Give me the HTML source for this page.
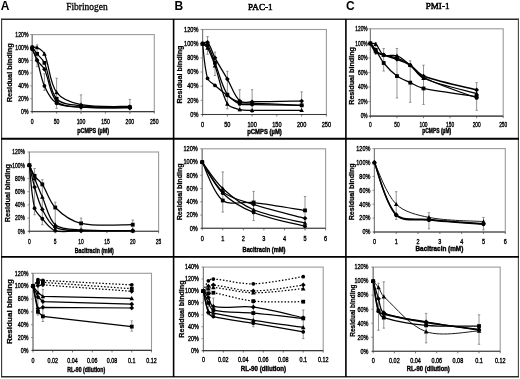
<!DOCTYPE html>
<html><head><meta charset="utf-8"><title>Residual binding figure</title>
<style>html,body{margin:0;padding:0;background:#fff;width:520px;height:379px;overflow:hidden}svg{display:block;will-change:transform;filter:blur(0.3px);font-family:"Liberation Sans",sans-serif}</style>
</head><body>
<svg width="520" height="379" viewBox="0 0 520 379" font-family="Liberation Sans">
<rect width="520" height="379" fill="#fff"/>
<text x="0.80" y="9.60" font-size="12" fill="#000" font-weight="bold">A</text><text x="174.50" y="9.70" font-size="12" fill="#000" font-weight="bold">B</text><text x="345.90" y="9.70" font-size="12" fill="#000" font-weight="bold">C</text><text x="66.20" y="9.65" font-size="9.8" fill="#000" stroke="#000" stroke-width="0.3" textLength="41.60" lengthAdjust="spacingAndGlyphs" font-family="Liberation Serif">Fibrinogen</text><text x="248.10" y="9.50" font-size="9.2" fill="#000" stroke="#000" stroke-width="0.5" textLength="24.60" lengthAdjust="spacingAndGlyphs" font-family="Liberation Serif">PAC-1</text><text x="425.70" y="9.45" font-size="9.2" fill="#000" stroke="#000" stroke-width="0.5" textLength="23.80" lengthAdjust="spacingAndGlyphs" font-family="Liberation Serif">PMI-1</text>

<g fill="none">
<line x1="1.5" y1="19.2" x2="518.5" y2="19.2" stroke="#2a2a2a" stroke-width="1.5"/>
<line x1="1.6" y1="18.5" x2="1.6" y2="377" stroke="#333" stroke-width="1.1"/>
<line x1="518.4" y1="18.5" x2="518.4" y2="377" stroke="#444" stroke-width="1.1"/>
<line x1="1" y1="376.7" x2="519" y2="376.7" stroke="#2a2a2a" stroke-width="1.5"/>
<line x1="173.6" y1="19" x2="173.6" y2="377" stroke="#000" stroke-width="1.6"/>
<line x1="345.9" y1="19" x2="345.9" y2="377" stroke="#000" stroke-width="1.6"/>
<line x1="1" y1="138.7" x2="519" y2="138.7" stroke="#000" stroke-width="1.9"/>
<line x1="1" y1="256.9" x2="519" y2="256.9" stroke="#000" stroke-width="1.9"/>
</g>

<rect x="32.20" y="34.60" width="122.10" height="77.00" fill="none" stroke="#9a9a9a" stroke-width="1.1"/>
<line x1="32.20" y1="34.60" x2="32.20" y2="111.60" stroke="#7a7a7a" stroke-width="1"/>
<line x1="30.20" y1="111.60" x2="32.20" y2="111.60" stroke="#777" stroke-width="0.8"/>
<line x1="30.20" y1="98.77" x2="32.20" y2="98.77" stroke="#777" stroke-width="0.8"/>
<line x1="30.20" y1="85.93" x2="32.20" y2="85.93" stroke="#777" stroke-width="0.8"/>
<line x1="30.20" y1="73.10" x2="32.20" y2="73.10" stroke="#777" stroke-width="0.8"/>
<line x1="30.20" y1="60.27" x2="32.20" y2="60.27" stroke="#777" stroke-width="0.8"/>
<line x1="30.20" y1="47.43" x2="32.20" y2="47.43" stroke="#777" stroke-width="0.8"/>
<line x1="30.20" y1="34.60" x2="32.20" y2="34.60" stroke="#777" stroke-width="0.8"/>
<line x1="32.20" y1="111.60" x2="32.20" y2="113.60" stroke="#555" stroke-width="0.8"/>
<line x1="56.62" y1="111.60" x2="56.62" y2="113.60" stroke="#555" stroke-width="0.8"/>
<line x1="81.04" y1="111.60" x2="81.04" y2="113.60" stroke="#555" stroke-width="0.8"/>
<line x1="105.46" y1="111.60" x2="105.46" y2="113.60" stroke="#555" stroke-width="0.8"/>
<line x1="129.88" y1="111.60" x2="129.88" y2="113.60" stroke="#555" stroke-width="0.8"/>
<line x1="154.30" y1="111.60" x2="154.30" y2="113.60" stroke="#555" stroke-width="0.8"/>
<line x1="31.20" y1="111.60" x2="154.30" y2="111.60" stroke="#3a3a3a" stroke-width="1.1"/>
<g stroke="#808080" stroke-width="0.85"><line x1="37.08" y1="44.87" x2="37.08" y2="66.68"/><line x1="35.88" y1="44.87" x2="38.28" y2="44.87"/><line x1="35.88" y1="66.68" x2="38.28" y2="66.68"/><line x1="44.41" y1="73.74" x2="44.41" y2="90.42"/><line x1="43.21" y1="73.74" x2="45.61" y2="73.74"/><line x1="43.21" y1="90.42" x2="45.61" y2="90.42"/><line x1="56.62" y1="78.23" x2="56.62" y2="108.39"/><line x1="55.42" y1="78.23" x2="57.82" y2="78.23"/><line x1="55.42" y1="108.39" x2="57.82" y2="108.39"/><line x1="81.04" y1="94.92" x2="81.04" y2="113.52"/><line x1="79.84" y1="94.92" x2="82.24" y2="94.92"/><line x1="129.88" y1="99.41" x2="129.88" y2="113.52"/><line x1="128.68" y1="99.41" x2="131.08" y2="99.41"/></g>
<path d="M32.20,47.43 C33.01,47.43 35.72,46.72 37.08,47.43 C39.79,48.86 43.14,50.94 44.41,53.85 C49.66,65.91 49.33,82.27 56.62,92.35 C61.54,99.16 72.29,102.86 81.04,104.54 C96.71,107.56 121.74,106.15 129.88,106.47" fill="none" stroke="#000" stroke-width="1.25"/>
<g fill="#000"><path d="M32.20,45.15 L34.48,49.26 L29.92,49.26Z"/><path d="M37.08,45.15 L39.36,49.26 L34.80,49.26Z"/><path d="M44.41,51.57 L46.69,55.67 L42.13,55.67Z"/><path d="M56.62,90.07 L58.90,94.17 L54.34,94.17Z"/><path d="M81.04,102.26 L83.32,106.37 L78.76,106.37Z"/><path d="M129.88,104.19 L132.16,108.29 L127.60,108.29Z"/></g>
<path d="M32.20,47.43 C33.01,48.50 35.41,51.74 37.08,53.85 C39.48,56.88 42.89,59.33 44.41,62.83 C49.40,74.30 49.31,90.18 56.62,98.77 C61.52,104.52 72.68,104.87 81.04,105.82 C97.10,107.65 121.74,106.89 129.88,107.11" fill="none" stroke="#000" stroke-width="1.25"/>
<g fill="#000"><rect x="30.30" y="45.53" width="3.80" height="3.80"/><rect x="35.18" y="51.95" width="3.80" height="3.80"/><rect x="42.51" y="60.93" width="3.80" height="3.80"/><rect x="54.72" y="96.87" width="3.80" height="3.80"/><rect x="79.14" y="103.92" width="3.80" height="3.80"/><rect x="127.98" y="105.21" width="3.80" height="3.80"/></g>
<path d="M32.20,47.43 C33.01,49.57 34.88,56.32 37.08,60.27 C38.95,63.60 42.77,65.79 44.41,69.25 C49.28,79.48 49.57,94.04 56.62,101.33 C61.78,106.66 72.75,106.38 81.04,107.11 C97.17,108.52 121.74,107.64 129.88,107.75" fill="none" stroke="#000" stroke-width="1.25"/>
<g fill="#000"><path d="M32.20,45.06 L34.58,47.43 L32.20,49.81 L29.83,47.43Z"/><path d="M37.08,57.89 L39.46,60.27 L37.08,62.64 L34.71,60.27Z"/><path d="M44.41,66.88 L46.79,69.25 L44.41,71.62 L42.04,69.25Z"/><path d="M56.62,98.96 L59.00,101.33 L56.62,103.71 L54.25,101.33Z"/><path d="M81.04,104.73 L83.42,107.11 L81.04,109.48 L78.67,107.11Z"/><path d="M129.88,105.38 L132.25,107.75 L129.88,110.12 L127.50,107.75Z"/></g>
<path d="M32.20,49.36 C33.01,51.18 35.83,56.50 37.08,60.27 C39.90,68.69 40.78,77.95 44.41,85.93 C47.29,92.28 50.98,100.00 56.62,103.26 C63.19,107.06 72.83,106.61 81.04,107.11 C97.25,108.10 121.74,107.64 129.88,107.75" fill="none" stroke="#000" stroke-width="1.25"/>
<g fill="#000"><circle cx="32.20" cy="49.36" r="1.90"/><circle cx="37.08" cy="60.27" r="1.90"/><circle cx="44.41" cy="85.93" r="1.90"/><circle cx="56.62" cy="103.26" r="1.90"/><circle cx="81.04" cy="107.11" r="1.90"/><circle cx="129.88" cy="107.75" r="1.90"/></g>
<text x="28.50" y="113.90" font-size="6.5" fill="#000" stroke="#000" stroke-width="0.35" text-anchor="end" textLength="7.42" lengthAdjust="spacingAndGlyphs">0%</text><text x="28.50" y="101.07" font-size="6.5" fill="#000" stroke="#000" stroke-width="0.35" text-anchor="end" textLength="10.28" lengthAdjust="spacingAndGlyphs">20%</text><text x="28.50" y="88.23" font-size="6.5" fill="#000" stroke="#000" stroke-width="0.35" text-anchor="end" textLength="10.28" lengthAdjust="spacingAndGlyphs">40%</text><text x="28.50" y="75.40" font-size="6.5" fill="#000" stroke="#000" stroke-width="0.35" text-anchor="end" textLength="10.28" lengthAdjust="spacingAndGlyphs">60%</text><text x="28.50" y="62.57" font-size="6.5" fill="#000" stroke="#000" stroke-width="0.35" text-anchor="end" textLength="10.28" lengthAdjust="spacingAndGlyphs">80%</text><text x="28.50" y="49.73" font-size="6.5" fill="#000" stroke="#000" stroke-width="0.35" text-anchor="end" textLength="13.13" lengthAdjust="spacingAndGlyphs">100%</text><text x="28.50" y="36.90" font-size="6.5" fill="#000" stroke="#000" stroke-width="0.35" text-anchor="end" textLength="13.13" lengthAdjust="spacingAndGlyphs">120%</text><text x="32.20" y="123.60" font-size="6.5" fill="#000" stroke="#000" stroke-width="0.35" text-anchor="middle" textLength="2.86" lengthAdjust="spacingAndGlyphs">0</text><text x="56.62" y="123.60" font-size="6.5" fill="#000" stroke="#000" stroke-width="0.35" text-anchor="middle" textLength="5.71" lengthAdjust="spacingAndGlyphs">50</text><text x="81.04" y="123.60" font-size="6.5" fill="#000" stroke="#000" stroke-width="0.35" text-anchor="middle" textLength="8.57" lengthAdjust="spacingAndGlyphs">100</text><text x="105.46" y="123.60" font-size="6.5" fill="#000" stroke="#000" stroke-width="0.35" text-anchor="middle" textLength="8.57" lengthAdjust="spacingAndGlyphs">150</text><text x="129.88" y="123.60" font-size="6.5" fill="#000" stroke="#000" stroke-width="0.35" text-anchor="middle" textLength="8.57" lengthAdjust="spacingAndGlyphs">200</text><text x="154.30" y="123.60" font-size="6.5" fill="#000" stroke="#000" stroke-width="0.35" text-anchor="middle" textLength="8.57" lengthAdjust="spacingAndGlyphs">250</text>
<text x="93.10" y="132.80" font-size="6.5" fill="#000" stroke="#000" stroke-width="0.38" font-weight="bold" text-anchor="middle" textLength="31.80" lengthAdjust="spacingAndGlyphs">pCMPS (µM)</text>
<text x="11.60" y="72.85" font-size="7.2" fill="#000" stroke="#000" stroke-width="0.25" font-weight="bold" text-anchor="middle" textLength="58.90" lengthAdjust="spacingAndGlyphs" transform="rotate(-90 11.60 72.85)">Residual binding</text>
<rect x="202.60" y="29.50" width="123.80" height="85.00" fill="none" stroke="#9a9a9a" stroke-width="1.1"/>
<line x1="202.60" y1="29.50" x2="202.60" y2="114.50" stroke="#7a7a7a" stroke-width="1"/>
<line x1="200.60" y1="114.50" x2="202.60" y2="114.50" stroke="#777" stroke-width="0.8"/>
<line x1="200.60" y1="100.33" x2="202.60" y2="100.33" stroke="#777" stroke-width="0.8"/>
<line x1="200.60" y1="86.17" x2="202.60" y2="86.17" stroke="#777" stroke-width="0.8"/>
<line x1="200.60" y1="72.00" x2="202.60" y2="72.00" stroke="#777" stroke-width="0.8"/>
<line x1="200.60" y1="57.83" x2="202.60" y2="57.83" stroke="#777" stroke-width="0.8"/>
<line x1="200.60" y1="43.67" x2="202.60" y2="43.67" stroke="#777" stroke-width="0.8"/>
<line x1="200.60" y1="29.50" x2="202.60" y2="29.50" stroke="#777" stroke-width="0.8"/>
<line x1="202.60" y1="114.50" x2="202.60" y2="116.50" stroke="#555" stroke-width="0.8"/>
<line x1="227.36" y1="114.50" x2="227.36" y2="116.50" stroke="#555" stroke-width="0.8"/>
<line x1="252.12" y1="114.50" x2="252.12" y2="116.50" stroke="#555" stroke-width="0.8"/>
<line x1="276.88" y1="114.50" x2="276.88" y2="116.50" stroke="#555" stroke-width="0.8"/>
<line x1="301.64" y1="114.50" x2="301.64" y2="116.50" stroke="#555" stroke-width="0.8"/>
<line x1="326.40" y1="114.50" x2="326.40" y2="116.50" stroke="#555" stroke-width="0.8"/>
<line x1="201.60" y1="114.50" x2="326.40" y2="114.50" stroke="#3a3a3a" stroke-width="1.1"/>
<g stroke="#808080" stroke-width="0.85"><line x1="207.55" y1="36.58" x2="207.55" y2="54.29"/><line x1="206.35" y1="36.58" x2="208.75" y2="36.58"/><line x1="206.35" y1="54.29" x2="208.75" y2="54.29"/><line x1="214.98" y1="52.17" x2="214.98" y2="75.54"/><line x1="213.78" y1="52.17" x2="216.18" y2="52.17"/><line x1="213.78" y1="75.54" x2="216.18" y2="75.54"/><line x1="227.36" y1="71.29" x2="227.36" y2="108.83"/><line x1="226.16" y1="71.29" x2="228.56" y2="71.29"/><line x1="226.16" y1="108.83" x2="228.56" y2="108.83"/><line x1="239.74" y1="89.71" x2="239.74" y2="110.96"/><line x1="238.54" y1="89.71" x2="240.94" y2="89.71"/><line x1="238.54" y1="110.96" x2="240.94" y2="110.96"/><line x1="252.12" y1="89.71" x2="252.12" y2="112.38"/><line x1="250.92" y1="89.71" x2="253.32" y2="89.71"/><line x1="250.92" y1="112.38" x2="253.32" y2="112.38"/><line x1="301.64" y1="91.83" x2="301.64" y2="110.96"/><line x1="300.44" y1="91.83" x2="302.84" y2="91.83"/><line x1="300.44" y1="110.96" x2="302.84" y2="110.96"/></g>
<path d="M202.60,43.67 C203.43,43.43 206.60,41.16 207.55,42.25 C210.73,45.89 212.26,52.77 214.98,57.83 C218.86,65.05 223.28,71.97 227.36,79.08 C231.54,86.37 234.21,95.98 239.74,101.04 C242.46,103.53 247.99,101.75 252.12,101.75 C268.62,101.75 293.39,101.16 301.64,101.04" fill="none" stroke="#000" stroke-width="1.25"/>
<g fill="#000"><path d="M202.60,41.29 L204.97,43.67 L202.60,46.04 L200.22,43.67Z"/><path d="M207.55,39.88 L209.93,42.25 L207.55,44.62 L205.18,42.25Z"/><path d="M214.98,55.46 L217.35,57.83 L214.98,60.21 L212.60,57.83Z"/><path d="M227.36,76.71 L229.73,79.08 L227.36,81.46 L224.98,79.08Z"/><path d="M239.74,98.67 L242.11,101.04 L239.74,103.42 L237.36,101.04Z"/><path d="M252.12,99.38 L254.50,101.75 L252.12,104.12 L249.75,101.75Z"/><path d="M301.64,98.67 L304.01,101.04 L301.64,103.42 L299.26,101.04Z"/></g>
<path d="M202.60,43.67 C203.43,43.90 206.68,43.74 207.55,45.08 C210.81,50.11 212.61,56.85 214.98,62.79 C219.21,73.38 221.58,85.41 227.36,94.67 C229.83,98.63 235.27,100.92 239.74,102.46 C243.53,103.76 247.99,102.98 252.12,103.17 C268.62,103.92 293.39,104.94 301.64,105.29" fill="none" stroke="#000" stroke-width="1.25"/>
<g fill="#000"><rect x="200.70" y="41.77" width="3.80" height="3.80"/><rect x="205.65" y="43.18" width="3.80" height="3.80"/><rect x="213.08" y="60.89" width="3.80" height="3.80"/><rect x="225.46" y="92.77" width="3.80" height="3.80"/><rect x="237.84" y="100.56" width="3.80" height="3.80"/><rect x="250.22" y="101.27" width="3.80" height="3.80"/><rect x="299.74" y="103.39" width="3.80" height="3.80"/></g>
<path d="M202.60,43.67 C203.43,44.37 206.51,46.06 207.55,47.92 C210.63,53.38 212.85,59.60 214.98,65.62 C219.45,78.25 221.19,92.94 227.36,103.88 C229.45,107.58 235.42,108.43 239.74,109.54 C243.67,110.55 247.99,110.20 252.12,110.25 C268.62,110.44 293.39,110.25 301.64,110.25" fill="none" stroke="#000" stroke-width="1.25"/>
<g fill="#000"><path d="M202.60,41.39 L204.88,45.49 L200.32,45.49Z"/><path d="M207.55,45.64 L209.83,49.74 L205.27,49.74Z"/><path d="M214.98,63.34 L217.26,67.45 L212.70,67.45Z"/><path d="M227.36,101.59 L229.64,105.70 L225.08,105.70Z"/><path d="M239.74,107.26 L242.02,111.37 L237.46,111.37Z"/><path d="M252.12,107.97 L254.40,112.07 L249.84,112.07Z"/><path d="M301.64,107.97 L303.92,112.07 L299.36,112.07Z"/></g>
<path d="M202.60,43.67 C203.43,49.45 204.36,67.60 207.55,78.38 C208.49,81.53 212.39,83.23 214.98,85.46 C218.99,88.90 223.12,92.22 227.36,95.38 C231.37,98.36 235.22,102.19 239.74,103.88 C243.47,105.26 247.99,104.49 252.12,104.58 C268.62,104.96 293.39,105.17 301.64,105.29" fill="none" stroke="#000" stroke-width="1.25"/>
<g fill="#000"><circle cx="202.60" cy="43.67" r="1.90"/><circle cx="207.55" cy="78.38" r="1.90"/><circle cx="214.98" cy="85.46" r="1.90"/><circle cx="227.36" cy="95.38" r="1.90"/><circle cx="239.74" cy="103.88" r="1.90"/><circle cx="252.12" cy="104.58" r="1.90"/><circle cx="301.64" cy="105.29" r="1.90"/></g>
<text x="198.40" y="116.80" font-size="6.5" fill="#000" stroke="#000" stroke-width="0.35" text-anchor="end" textLength="8.08" lengthAdjust="spacingAndGlyphs">0%</text><text x="198.40" y="102.63" font-size="6.5" fill="#000" stroke="#000" stroke-width="0.35" text-anchor="end" textLength="11.19" lengthAdjust="spacingAndGlyphs">20%</text><text x="198.40" y="88.47" font-size="6.5" fill="#000" stroke="#000" stroke-width="0.35" text-anchor="end" textLength="11.19" lengthAdjust="spacingAndGlyphs">40%</text><text x="198.40" y="74.30" font-size="6.5" fill="#000" stroke="#000" stroke-width="0.35" text-anchor="end" textLength="11.19" lengthAdjust="spacingAndGlyphs">60%</text><text x="198.40" y="60.13" font-size="6.5" fill="#000" stroke="#000" stroke-width="0.35" text-anchor="end" textLength="11.19" lengthAdjust="spacingAndGlyphs">80%</text><text x="198.40" y="45.97" font-size="6.5" fill="#000" stroke="#000" stroke-width="0.35" text-anchor="end" textLength="14.30" lengthAdjust="spacingAndGlyphs">100%</text><text x="198.40" y="31.80" font-size="6.5" fill="#000" stroke="#000" stroke-width="0.35" text-anchor="end" textLength="14.30" lengthAdjust="spacingAndGlyphs">120%</text><text x="202.60" y="126.60" font-size="6.5" fill="#000" stroke="#000" stroke-width="0.35" text-anchor="middle" textLength="3.11" lengthAdjust="spacingAndGlyphs">0</text><text x="227.36" y="126.60" font-size="6.5" fill="#000" stroke="#000" stroke-width="0.35" text-anchor="middle" textLength="6.22" lengthAdjust="spacingAndGlyphs">50</text><text x="252.12" y="126.60" font-size="6.5" fill="#000" stroke="#000" stroke-width="0.35" text-anchor="middle" textLength="9.33" lengthAdjust="spacingAndGlyphs">100</text><text x="276.88" y="126.60" font-size="6.5" fill="#000" stroke="#000" stroke-width="0.35" text-anchor="middle" textLength="9.33" lengthAdjust="spacingAndGlyphs">150</text><text x="301.64" y="126.60" font-size="6.5" fill="#000" stroke="#000" stroke-width="0.35" text-anchor="middle" textLength="9.33" lengthAdjust="spacingAndGlyphs">200</text><text x="326.40" y="126.60" font-size="6.5" fill="#000" stroke="#000" stroke-width="0.35" text-anchor="middle" textLength="9.33" lengthAdjust="spacingAndGlyphs">250</text>
<text x="264.50" y="134.20" font-size="6.5" fill="#000" stroke="#000" stroke-width="0.38" font-weight="bold" text-anchor="middle" textLength="34.50" lengthAdjust="spacingAndGlyphs">pCMPS (µM)</text>
<text x="181.90" y="74.55" font-size="7.2" fill="#000" stroke="#000" stroke-width="0.25" font-weight="bold" text-anchor="middle" textLength="58.10" lengthAdjust="spacingAndGlyphs" transform="rotate(-90 181.90 74.55)">Residual binding</text>
<rect x="370.40" y="28.80" width="132.80" height="87.30" fill="none" stroke="#9a9a9a" stroke-width="1.1"/>
<line x1="370.40" y1="28.80" x2="370.40" y2="116.10" stroke="#7a7a7a" stroke-width="1"/>
<line x1="368.40" y1="116.10" x2="370.40" y2="116.10" stroke="#777" stroke-width="0.8"/>
<line x1="368.40" y1="101.55" x2="370.40" y2="101.55" stroke="#777" stroke-width="0.8"/>
<line x1="368.40" y1="87.00" x2="370.40" y2="87.00" stroke="#777" stroke-width="0.8"/>
<line x1="368.40" y1="72.45" x2="370.40" y2="72.45" stroke="#777" stroke-width="0.8"/>
<line x1="368.40" y1="57.90" x2="370.40" y2="57.90" stroke="#777" stroke-width="0.8"/>
<line x1="368.40" y1="43.35" x2="370.40" y2="43.35" stroke="#777" stroke-width="0.8"/>
<line x1="368.40" y1="28.80" x2="370.40" y2="28.80" stroke="#777" stroke-width="0.8"/>
<line x1="370.40" y1="116.10" x2="370.40" y2="118.10" stroke="#555" stroke-width="0.8"/>
<line x1="396.96" y1="116.10" x2="396.96" y2="118.10" stroke="#555" stroke-width="0.8"/>
<line x1="423.52" y1="116.10" x2="423.52" y2="118.10" stroke="#555" stroke-width="0.8"/>
<line x1="450.08" y1="116.10" x2="450.08" y2="118.10" stroke="#555" stroke-width="0.8"/>
<line x1="476.64" y1="116.10" x2="476.64" y2="118.10" stroke="#555" stroke-width="0.8"/>
<line x1="503.20" y1="116.10" x2="503.20" y2="118.10" stroke="#555" stroke-width="0.8"/>
<line x1="369.40" y1="116.10" x2="503.20" y2="116.10" stroke="#3a3a3a" stroke-width="1.1"/>
<g stroke="#808080" stroke-width="0.85"><line x1="375.71" y1="42.62" x2="375.71" y2="54.26"/><line x1="374.51" y1="42.62" x2="376.91" y2="42.62"/><line x1="374.51" y1="54.26" x2="376.91" y2="54.26"/><line x1="383.68" y1="48.44" x2="383.68" y2="70.99"/><line x1="382.48" y1="48.44" x2="384.88" y2="48.44"/><line x1="382.48" y1="70.99" x2="384.88" y2="70.99"/><line x1="396.96" y1="48.44" x2="396.96" y2="97.91"/><line x1="395.76" y1="48.44" x2="398.16" y2="48.44"/><line x1="395.76" y1="97.91" x2="398.16" y2="97.91"/><line x1="410.24" y1="60.81" x2="410.24" y2="102.28"/><line x1="409.04" y1="60.81" x2="411.44" y2="60.81"/><line x1="409.04" y1="102.28" x2="411.44" y2="102.28"/><line x1="423.52" y1="65.17" x2="423.52" y2="104.46"/><line x1="422.32" y1="65.17" x2="424.72" y2="65.17"/><line x1="422.32" y1="104.46" x2="424.72" y2="104.46"/><line x1="476.64" y1="82.63" x2="476.64" y2="110.28"/><line x1="475.44" y1="82.63" x2="477.84" y2="82.63"/><line x1="475.44" y1="110.28" x2="477.84" y2="110.28"/></g>
<path d="M370.40,43.35 C371.29,44.80 373.29,49.96 375.71,52.08 C377.72,53.84 381.01,54.07 383.68,54.99 C388.09,56.50 392.61,57.69 396.96,59.35 C401.47,61.08 406.19,62.62 410.24,65.17 C415.04,68.20 418.24,74.12 423.52,76.09 C440.38,82.37 467.79,87.61 476.64,89.91" fill="none" stroke="#000" stroke-width="1.6"/>
<g fill="#000"><path d="M370.40,40.97 L372.77,43.35 L370.40,45.72 L368.02,43.35Z"/><path d="M375.71,49.70 L378.09,52.08 L375.71,54.45 L373.34,52.08Z"/><path d="M383.68,52.62 L386.05,54.99 L383.68,57.37 L381.30,54.99Z"/><path d="M396.96,56.98 L399.33,59.35 L396.96,61.73 L394.58,59.35Z"/><path d="M410.24,62.80 L412.62,65.17 L410.24,67.55 L407.87,65.17Z"/><path d="M423.52,73.71 L425.89,76.09 L423.52,78.46 L421.14,76.09Z"/><path d="M476.64,87.53 L479.01,89.91 L476.64,92.28 L474.26,89.91Z"/></g>
<path d="M370.40,43.35 C371.29,43.47 374.45,42.98 375.71,44.08 C378.88,46.86 380.11,53.03 383.68,54.99 C387.19,56.91 392.98,54.19 396.96,55.72 C401.84,57.59 406.11,61.67 410.24,65.17 C414.96,69.19 417.94,75.88 423.52,78.27 C440.07,85.34 467.79,91.00 476.64,93.55" fill="none" stroke="#000" stroke-width="1.25"/>
<g fill="#000"><path d="M370.40,41.07 L372.68,45.17 L368.12,45.17Z"/><path d="M375.71,41.80 L377.99,45.90 L373.43,45.90Z"/><path d="M383.68,52.71 L385.96,56.81 L381.40,56.81Z"/><path d="M396.96,53.44 L399.24,57.54 L394.68,57.54Z"/><path d="M410.24,62.89 L412.52,67.00 L407.96,67.00Z"/><path d="M423.52,75.99 L425.80,80.09 L421.24,80.09Z"/><path d="M476.64,91.27 L478.92,95.37 L474.36,95.37Z"/></g>
<path d="M370.40,43.35 C371.29,44.44 374.14,47.57 375.71,49.90 C378.57,54.12 380.48,59.05 383.68,62.99 C387.57,67.78 392.02,72.44 396.96,76.09 C400.88,78.99 405.77,80.55 410.24,82.63 C414.62,84.67 418.82,87.48 423.52,88.45 C440.95,92.08 467.79,95.12 476.64,96.46" fill="none" stroke="#000" stroke-width="1.25"/>
<g fill="#000"><rect x="368.50" y="41.45" width="3.80" height="3.80"/><rect x="373.81" y="48.00" width="3.80" height="3.80"/><rect x="381.78" y="61.09" width="3.80" height="3.80"/><rect x="395.06" y="74.19" width="3.80" height="3.80"/><rect x="408.34" y="80.73" width="3.80" height="3.80"/><rect x="421.62" y="86.55" width="3.80" height="3.80"/><rect x="474.74" y="94.56" width="3.80" height="3.80"/></g>
<path d="M370.40,43.35 C371.29,44.56 373.51,48.69 375.71,50.62 C377.93,52.57 380.84,54.02 383.68,54.99 C387.93,56.44 392.77,56.29 396.96,57.90 C401.62,59.69 406.21,62.20 410.24,65.17 C415.07,68.74 418.17,74.90 423.52,77.54 C440.30,85.82 467.79,94.52 476.64,97.91" fill="none" stroke="#000" stroke-width="1.25"/>
<g fill="#000"><circle cx="370.40" cy="43.35" r="1.90"/><circle cx="375.71" cy="50.62" r="1.90"/><circle cx="383.68" cy="54.99" r="1.90"/><circle cx="396.96" cy="57.90" r="1.90"/><circle cx="410.24" cy="65.17" r="1.90"/><circle cx="423.52" cy="77.54" r="1.90"/><circle cx="476.64" cy="97.91" r="1.90"/></g>
<text x="367.60" y="118.40" font-size="6.5" fill="#000" stroke="#000" stroke-width="0.35" text-anchor="end" textLength="6.95" lengthAdjust="spacingAndGlyphs">0%</text><text x="367.60" y="103.85" font-size="6.5" fill="#000" stroke="#000" stroke-width="0.35" text-anchor="end" textLength="9.63" lengthAdjust="spacingAndGlyphs">20%</text><text x="367.60" y="89.30" font-size="6.5" fill="#000" stroke="#000" stroke-width="0.35" text-anchor="end" textLength="9.63" lengthAdjust="spacingAndGlyphs">40%</text><text x="367.60" y="74.75" font-size="6.5" fill="#000" stroke="#000" stroke-width="0.35" text-anchor="end" textLength="9.63" lengthAdjust="spacingAndGlyphs">60%</text><text x="367.60" y="60.20" font-size="6.5" fill="#000" stroke="#000" stroke-width="0.35" text-anchor="end" textLength="9.63" lengthAdjust="spacingAndGlyphs">80%</text><text x="367.60" y="45.65" font-size="6.5" fill="#000" stroke="#000" stroke-width="0.35" text-anchor="end" textLength="12.30" lengthAdjust="spacingAndGlyphs">100%</text><text x="367.60" y="31.10" font-size="6.5" fill="#000" stroke="#000" stroke-width="0.35" text-anchor="end" textLength="12.30" lengthAdjust="spacingAndGlyphs">120%</text><text x="370.40" y="126.60" font-size="6.5" fill="#000" stroke="#000" stroke-width="0.35" text-anchor="middle" textLength="2.67" lengthAdjust="spacingAndGlyphs">0</text><text x="396.96" y="126.60" font-size="6.5" fill="#000" stroke="#000" stroke-width="0.35" text-anchor="middle" textLength="5.35" lengthAdjust="spacingAndGlyphs">50</text><text x="423.52" y="126.60" font-size="6.5" fill="#000" stroke="#000" stroke-width="0.35" text-anchor="middle" textLength="8.02" lengthAdjust="spacingAndGlyphs">100</text><text x="450.08" y="126.60" font-size="6.5" fill="#000" stroke="#000" stroke-width="0.35" text-anchor="middle" textLength="8.02" lengthAdjust="spacingAndGlyphs">150</text><text x="476.64" y="126.60" font-size="6.5" fill="#000" stroke="#000" stroke-width="0.35" text-anchor="middle" textLength="8.02" lengthAdjust="spacingAndGlyphs">200</text><text x="503.20" y="126.60" font-size="6.5" fill="#000" stroke="#000" stroke-width="0.35" text-anchor="middle" textLength="8.02" lengthAdjust="spacingAndGlyphs">250</text>
<text x="436.70" y="133.40" font-size="6.5" fill="#000" stroke="#000" stroke-width="0.38" font-weight="bold" text-anchor="middle" textLength="29.00" lengthAdjust="spacingAndGlyphs">pCMPS (µM)</text>
<text x="353.90" y="75.90" font-size="7.2" fill="#000" stroke="#000" stroke-width="0.25" font-weight="bold" text-anchor="middle" textLength="57.80" lengthAdjust="spacingAndGlyphs" transform="rotate(-90 353.90 75.90)">Residual binding</text>
<rect x="29.40" y="152.00" width="129.20" height="79.30" fill="none" stroke="#9a9a9a" stroke-width="1.1"/>
<line x1="29.40" y1="152.00" x2="29.40" y2="231.30" stroke="#7a7a7a" stroke-width="1"/>
<line x1="27.40" y1="231.30" x2="29.40" y2="231.30" stroke="#777" stroke-width="0.8"/>
<line x1="27.40" y1="218.08" x2="29.40" y2="218.08" stroke="#777" stroke-width="0.8"/>
<line x1="27.40" y1="204.87" x2="29.40" y2="204.87" stroke="#777" stroke-width="0.8"/>
<line x1="27.40" y1="191.65" x2="29.40" y2="191.65" stroke="#777" stroke-width="0.8"/>
<line x1="27.40" y1="178.43" x2="29.40" y2="178.43" stroke="#777" stroke-width="0.8"/>
<line x1="27.40" y1="165.22" x2="29.40" y2="165.22" stroke="#777" stroke-width="0.8"/>
<line x1="27.40" y1="152.00" x2="29.40" y2="152.00" stroke="#777" stroke-width="0.8"/>
<line x1="29.40" y1="231.30" x2="29.40" y2="233.30" stroke="#555" stroke-width="0.8"/>
<line x1="55.24" y1="231.30" x2="55.24" y2="233.30" stroke="#555" stroke-width="0.8"/>
<line x1="81.08" y1="231.30" x2="81.08" y2="233.30" stroke="#555" stroke-width="0.8"/>
<line x1="106.92" y1="231.30" x2="106.92" y2="233.30" stroke="#555" stroke-width="0.8"/>
<line x1="132.76" y1="231.30" x2="132.76" y2="233.30" stroke="#555" stroke-width="0.8"/>
<line x1="158.60" y1="231.30" x2="158.60" y2="233.30" stroke="#555" stroke-width="0.8"/>
<line x1="28.40" y1="231.30" x2="158.60" y2="231.30" stroke="#3a3a3a" stroke-width="1.1"/>
<g stroke="#808080" stroke-width="0.85"><line x1="34.57" y1="168.52" x2="34.57" y2="214.78"/><line x1="33.37" y1="168.52" x2="35.77" y2="168.52"/><line x1="33.37" y1="214.78" x2="35.77" y2="214.78"/><line x1="42.32" y1="179.75" x2="42.32" y2="224.69"/><line x1="41.12" y1="179.75" x2="43.52" y2="179.75"/><line x1="41.12" y1="224.69" x2="43.52" y2="224.69"/><line x1="55.24" y1="202.22" x2="55.24" y2="228.00"/><line x1="54.04" y1="202.22" x2="56.44" y2="202.22"/><line x1="54.04" y1="228.00" x2="56.44" y2="228.00"/><line x1="81.08" y1="218.08" x2="81.08" y2="228.00"/><line x1="79.88" y1="218.08" x2="82.28" y2="218.08"/><line x1="79.88" y1="228.00" x2="82.28" y2="228.00"/><line x1="132.76" y1="220.07" x2="132.76" y2="229.98"/><line x1="131.56" y1="220.07" x2="133.96" y2="220.07"/><line x1="131.56" y1="229.98" x2="133.96" y2="229.98"/></g>
<path d="M29.40,165.22 C30.26,166.98 32.40,172.57 34.57,175.79 C36.70,178.96 40.23,181.17 42.32,184.38 C47.12,191.74 49.22,201.45 55.24,207.51 C62.14,214.45 71.53,221.25 81.08,223.37 C97.37,226.98 124.15,224.47 132.76,224.69" fill="none" stroke="#000" stroke-width="1.25"/>
<g fill="#000"><rect x="27.50" y="163.32" width="3.80" height="3.80"/><rect x="32.67" y="173.89" width="3.80" height="3.80"/><rect x="40.42" y="182.48" width="3.80" height="3.80"/><rect x="53.34" y="205.61" width="3.80" height="3.80"/><rect x="79.18" y="221.47" width="3.80" height="3.80"/><rect x="130.86" y="222.79" width="3.80" height="3.80"/></g>
<path d="M29.40,165.22 C30.26,167.42 32.78,174.05 34.57,178.43 C37.09,184.63 39.59,190.83 42.32,196.94 C46.48,206.25 48.30,218.78 55.24,224.69 C61.22,229.79 72.35,229.31 81.08,229.98 C98.19,231.29 124.15,230.53 132.76,230.64" fill="none" stroke="#000" stroke-width="1.25"/>
<g fill="#000"><path d="M29.40,162.94 L31.68,167.04 L27.12,167.04Z"/><path d="M34.57,176.15 L36.85,180.26 L32.29,180.26Z"/><path d="M42.32,194.66 L44.60,198.76 L40.04,198.76Z"/><path d="M55.24,222.41 L57.52,226.52 L52.96,226.52Z"/><path d="M81.08,227.70 L83.36,231.80 L78.80,231.80Z"/><path d="M132.76,228.36 L135.04,232.46 L130.48,232.46Z"/></g>
<path d="M29.40,165.22 C30.26,168.85 32.48,179.86 34.57,187.02 C36.78,194.62 38.74,202.52 42.32,209.49 C45.63,215.96 49.32,224.11 55.24,227.34 C62.24,231.15 72.42,230.27 81.08,230.64 C98.26,231.37 124.15,230.64 132.76,230.64" fill="none" stroke="#000" stroke-width="1.25"/>
<g fill="#000"><path d="M29.40,162.84 L31.77,165.22 L29.40,167.59 L27.02,165.22Z"/><path d="M34.57,184.65 L36.94,187.02 L34.57,189.40 L32.19,187.02Z"/><path d="M42.32,207.12 L44.70,209.49 L42.32,211.87 L39.95,209.49Z"/><path d="M55.24,224.96 L57.61,227.34 L55.24,229.71 L52.86,227.34Z"/><path d="M81.08,228.26 L83.45,230.64 L81.08,233.01 L78.70,230.64Z"/><path d="M132.76,228.26 L135.13,230.64 L132.76,233.01 L130.38,230.64Z"/></g>
<path d="M29.40,165.22 C30.26,172.38 31.26,194.48 34.57,208.17 C35.57,212.32 39.37,215.54 42.32,218.74 C46.27,223.03 50.01,229.03 55.24,230.64 C62.93,233.00 72.47,230.64 81.08,230.64 C98.31,230.64 124.15,230.64 132.76,230.64" fill="none" stroke="#000" stroke-width="1.25"/>
<g fill="#000"><circle cx="29.40" cy="165.22" r="1.90"/><circle cx="34.57" cy="208.17" r="1.90"/><circle cx="42.32" cy="218.74" r="1.90"/><circle cx="55.24" cy="230.64" r="1.90"/><circle cx="81.08" cy="230.64" r="1.90"/><circle cx="132.76" cy="230.64" r="1.90"/></g>
<text x="24.90" y="233.60" font-size="6.5" fill="#000" stroke="#000" stroke-width="0.35" text-anchor="end" textLength="7.14" lengthAdjust="spacingAndGlyphs">0%</text><text x="24.90" y="220.38" font-size="6.5" fill="#000" stroke="#000" stroke-width="0.35" text-anchor="end" textLength="9.89" lengthAdjust="spacingAndGlyphs">20%</text><text x="24.90" y="207.17" font-size="6.5" fill="#000" stroke="#000" stroke-width="0.35" text-anchor="end" textLength="9.89" lengthAdjust="spacingAndGlyphs">40%</text><text x="24.90" y="193.95" font-size="6.5" fill="#000" stroke="#000" stroke-width="0.35" text-anchor="end" textLength="9.89" lengthAdjust="spacingAndGlyphs">60%</text><text x="24.90" y="180.73" font-size="6.5" fill="#000" stroke="#000" stroke-width="0.35" text-anchor="end" textLength="9.89" lengthAdjust="spacingAndGlyphs">80%</text><text x="24.90" y="167.52" font-size="6.5" fill="#000" stroke="#000" stroke-width="0.35" text-anchor="end" textLength="12.63" lengthAdjust="spacingAndGlyphs">100%</text><text x="24.90" y="154.30" font-size="6.5" fill="#000" stroke="#000" stroke-width="0.35" text-anchor="end" textLength="12.63" lengthAdjust="spacingAndGlyphs">120%</text><text x="29.40" y="243.60" font-size="6.5" fill="#000" stroke="#000" stroke-width="0.35" text-anchor="middle" textLength="2.75" lengthAdjust="spacingAndGlyphs">0</text><text x="55.24" y="243.60" font-size="6.5" fill="#000" stroke="#000" stroke-width="0.35" text-anchor="middle" textLength="2.75" lengthAdjust="spacingAndGlyphs">5</text><text x="81.08" y="243.60" font-size="6.5" fill="#000" stroke="#000" stroke-width="0.35" text-anchor="middle" textLength="5.49" lengthAdjust="spacingAndGlyphs">10</text><text x="106.92" y="243.60" font-size="6.5" fill="#000" stroke="#000" stroke-width="0.35" text-anchor="middle" textLength="5.49" lengthAdjust="spacingAndGlyphs">15</text><text x="132.76" y="243.60" font-size="6.5" fill="#000" stroke="#000" stroke-width="0.35" text-anchor="middle" textLength="5.49" lengthAdjust="spacingAndGlyphs">20</text><text x="158.60" y="243.60" font-size="6.5" fill="#000" stroke="#000" stroke-width="0.35" text-anchor="middle" textLength="5.49" lengthAdjust="spacingAndGlyphs">25</text>
<text x="94.30" y="252.50" font-size="6.5" fill="#000" stroke="#000" stroke-width="0.38" font-weight="bold" text-anchor="middle" textLength="39.00" lengthAdjust="spacingAndGlyphs">Bacitracin (mM)</text>
<text x="10.50" y="193.10" font-size="7.2" fill="#000" stroke="#000" stroke-width="0.25" font-weight="bold" text-anchor="middle" textLength="58.20" lengthAdjust="spacingAndGlyphs" transform="rotate(-90 10.50 193.10)">Residual binding</text>
<rect x="202.20" y="148.80" width="123.40" height="79.50" fill="none" stroke="#9a9a9a" stroke-width="1.1"/>
<line x1="202.20" y1="148.80" x2="202.20" y2="228.30" stroke="#7a7a7a" stroke-width="1"/>
<line x1="200.20" y1="228.30" x2="202.20" y2="228.30" stroke="#777" stroke-width="0.8"/>
<line x1="200.20" y1="215.05" x2="202.20" y2="215.05" stroke="#777" stroke-width="0.8"/>
<line x1="200.20" y1="201.80" x2="202.20" y2="201.80" stroke="#777" stroke-width="0.8"/>
<line x1="200.20" y1="188.55" x2="202.20" y2="188.55" stroke="#777" stroke-width="0.8"/>
<line x1="200.20" y1="175.30" x2="202.20" y2="175.30" stroke="#777" stroke-width="0.8"/>
<line x1="200.20" y1="162.05" x2="202.20" y2="162.05" stroke="#777" stroke-width="0.8"/>
<line x1="200.20" y1="148.80" x2="202.20" y2="148.80" stroke="#777" stroke-width="0.8"/>
<line x1="202.20" y1="228.30" x2="202.20" y2="230.30" stroke="#555" stroke-width="0.8"/>
<line x1="222.77" y1="228.30" x2="222.77" y2="230.30" stroke="#555" stroke-width="0.8"/>
<line x1="243.33" y1="228.30" x2="243.33" y2="230.30" stroke="#555" stroke-width="0.8"/>
<line x1="263.90" y1="228.30" x2="263.90" y2="230.30" stroke="#555" stroke-width="0.8"/>
<line x1="284.47" y1="228.30" x2="284.47" y2="230.30" stroke="#555" stroke-width="0.8"/>
<line x1="305.03" y1="228.30" x2="305.03" y2="230.30" stroke="#555" stroke-width="0.8"/>
<line x1="325.60" y1="228.30" x2="325.60" y2="230.30" stroke="#555" stroke-width="0.8"/>
<line x1="201.20" y1="228.30" x2="325.60" y2="228.30" stroke="#3a3a3a" stroke-width="1.1"/>
<g stroke="#808080" stroke-width="0.85"><line x1="222.77" y1="171.99" x2="222.77" y2="212.07"/><line x1="221.57" y1="171.99" x2="223.97" y2="171.99"/><line x1="221.57" y1="212.07" x2="223.97" y2="212.07"/><line x1="253.62" y1="191.40" x2="253.62" y2="220.62"/><line x1="252.42" y1="191.40" x2="254.82" y2="191.40"/><line x1="252.42" y1="220.62" x2="254.82" y2="220.62"/><line x1="305.03" y1="196.50" x2="305.03" y2="230.29"/><line x1="303.83" y1="196.50" x2="306.23" y2="196.50"/></g>
<path d="M202.20,162.05 C205.63,168.45 212.74,192.59 222.77,200.48 C229.88,206.06 243.40,201.23 253.62,202.46 C270.82,204.54 296.46,209.09 305.03,210.41" fill="none" stroke="#000" stroke-width="1.25"/>
<g fill="#000"><rect x="200.30" y="160.15" width="3.80" height="3.80"/><rect x="220.87" y="198.58" width="3.80" height="3.80"/><rect x="251.72" y="200.56" width="3.80" height="3.80"/><rect x="303.13" y="208.51" width="3.80" height="3.80"/></g>
<path d="M202.20,162.05 C205.63,167.02 213.84,184.50 222.77,191.86 C230.98,198.63 243.06,201.05 253.62,204.45 C270.49,209.88 296.46,216.04 305.03,218.36" fill="none" stroke="#000" stroke-width="1.25"/>
<g fill="#000"><path d="M202.20,159.68 L204.57,162.05 L202.20,164.43 L199.82,162.05Z"/><path d="M222.77,189.49 L225.14,191.86 L222.77,194.24 L220.39,191.86Z"/><path d="M253.62,202.08 L255.99,204.45 L253.62,206.83 L251.24,204.45Z"/><path d="M305.03,215.99 L307.41,218.36 L305.03,220.74 L302.66,218.36Z"/></g>
<path d="M202.20,162.05 C205.63,166.47 214.67,181.04 222.77,188.55 C231.81,196.94 242.28,205.00 253.62,209.75 C269.70,216.49 296.46,220.79 305.03,223.00" fill="none" stroke="#000" stroke-width="1.25"/>
<g fill="#000"><path d="M202.20,159.77 L204.48,163.87 L199.92,163.87Z"/><path d="M222.77,186.27 L225.05,190.37 L220.49,190.37Z"/><path d="M253.62,207.47 L255.90,211.57 L251.34,211.57Z"/><path d="M305.03,220.72 L307.31,224.82 L302.75,224.82Z"/></g>
<path d="M202.20,162.05 C205.63,167.24 214.08,184.68 222.77,193.19 C231.22,201.47 242.49,207.92 253.62,212.40 C269.92,218.96 296.46,223.99 305.03,226.31" fill="none" stroke="#000" stroke-width="1.25"/>
<g fill="#000"><circle cx="202.20" cy="162.05" r="1.90"/><circle cx="222.77" cy="193.19" r="1.90"/><circle cx="253.62" cy="212.40" r="1.90"/><circle cx="305.03" cy="226.31" r="1.90"/></g>
<text x="197.80" y="230.60" font-size="6.5" fill="#000" stroke="#000" stroke-width="0.35" text-anchor="end" textLength="8.08" lengthAdjust="spacingAndGlyphs">0%</text><text x="197.80" y="217.35" font-size="6.5" fill="#000" stroke="#000" stroke-width="0.35" text-anchor="end" textLength="11.19" lengthAdjust="spacingAndGlyphs">20%</text><text x="197.80" y="204.10" font-size="6.5" fill="#000" stroke="#000" stroke-width="0.35" text-anchor="end" textLength="11.19" lengthAdjust="spacingAndGlyphs">40%</text><text x="197.80" y="190.85" font-size="6.5" fill="#000" stroke="#000" stroke-width="0.35" text-anchor="end" textLength="11.19" lengthAdjust="spacingAndGlyphs">60%</text><text x="197.80" y="177.60" font-size="6.5" fill="#000" stroke="#000" stroke-width="0.35" text-anchor="end" textLength="11.19" lengthAdjust="spacingAndGlyphs">80%</text><text x="197.80" y="164.35" font-size="6.5" fill="#000" stroke="#000" stroke-width="0.35" text-anchor="end" textLength="14.30" lengthAdjust="spacingAndGlyphs">100%</text><text x="197.80" y="151.10" font-size="6.5" fill="#000" stroke="#000" stroke-width="0.35" text-anchor="end" textLength="14.30" lengthAdjust="spacingAndGlyphs">120%</text><text x="202.20" y="240.60" font-size="6.5" fill="#000" stroke="#000" stroke-width="0.35" text-anchor="middle" textLength="3.11" lengthAdjust="spacingAndGlyphs">0</text><text x="222.77" y="240.60" font-size="6.5" fill="#000" stroke="#000" stroke-width="0.35" text-anchor="middle" textLength="3.11" lengthAdjust="spacingAndGlyphs">1</text><text x="243.33" y="240.60" font-size="6.5" fill="#000" stroke="#000" stroke-width="0.35" text-anchor="middle" textLength="3.11" lengthAdjust="spacingAndGlyphs">2</text><text x="263.90" y="240.60" font-size="6.5" fill="#000" stroke="#000" stroke-width="0.35" text-anchor="middle" textLength="3.11" lengthAdjust="spacingAndGlyphs">3</text><text x="284.47" y="240.60" font-size="6.5" fill="#000" stroke="#000" stroke-width="0.35" text-anchor="middle" textLength="3.11" lengthAdjust="spacingAndGlyphs">4</text><text x="305.03" y="240.60" font-size="6.5" fill="#000" stroke="#000" stroke-width="0.35" text-anchor="middle" textLength="3.11" lengthAdjust="spacingAndGlyphs">5</text><text x="325.60" y="240.60" font-size="6.5" fill="#000" stroke="#000" stroke-width="0.35" text-anchor="middle" textLength="3.11" lengthAdjust="spacingAndGlyphs">6</text>
<text x="264.00" y="251.50" font-size="6.5" fill="#000" stroke="#000" stroke-width="0.38" font-weight="bold" text-anchor="middle" textLength="43.00" lengthAdjust="spacingAndGlyphs">Bacitracin (mM)</text>
<text x="182.50" y="191.85" font-size="7.2" fill="#000" stroke="#000" stroke-width="0.25" font-weight="bold" text-anchor="middle" textLength="56.70" lengthAdjust="spacingAndGlyphs" transform="rotate(-90 182.50 191.85)">Residual binding</text>
<rect x="374.40" y="148.60" width="130.90" height="83.40" fill="none" stroke="#9a9a9a" stroke-width="1.1"/>
<line x1="374.40" y1="148.60" x2="374.40" y2="232.00" stroke="#7a7a7a" stroke-width="1"/>
<line x1="372.40" y1="232.00" x2="374.40" y2="232.00" stroke="#777" stroke-width="0.8"/>
<line x1="372.40" y1="218.10" x2="374.40" y2="218.10" stroke="#777" stroke-width="0.8"/>
<line x1="372.40" y1="204.20" x2="374.40" y2="204.20" stroke="#777" stroke-width="0.8"/>
<line x1="372.40" y1="190.30" x2="374.40" y2="190.30" stroke="#777" stroke-width="0.8"/>
<line x1="372.40" y1="176.40" x2="374.40" y2="176.40" stroke="#777" stroke-width="0.8"/>
<line x1="372.40" y1="162.50" x2="374.40" y2="162.50" stroke="#777" stroke-width="0.8"/>
<line x1="372.40" y1="148.60" x2="374.40" y2="148.60" stroke="#777" stroke-width="0.8"/>
<line x1="374.40" y1="232.00" x2="374.40" y2="234.00" stroke="#555" stroke-width="0.8"/>
<line x1="396.22" y1="232.00" x2="396.22" y2="234.00" stroke="#555" stroke-width="0.8"/>
<line x1="418.03" y1="232.00" x2="418.03" y2="234.00" stroke="#555" stroke-width="0.8"/>
<line x1="439.85" y1="232.00" x2="439.85" y2="234.00" stroke="#555" stroke-width="0.8"/>
<line x1="461.67" y1="232.00" x2="461.67" y2="234.00" stroke="#555" stroke-width="0.8"/>
<line x1="483.48" y1="232.00" x2="483.48" y2="234.00" stroke="#555" stroke-width="0.8"/>
<line x1="505.30" y1="232.00" x2="505.30" y2="234.00" stroke="#555" stroke-width="0.8"/>
<line x1="373.40" y1="232.00" x2="505.30" y2="232.00" stroke="#3a3a3a" stroke-width="1.1"/>
<g stroke="#808080" stroke-width="0.85"><line x1="396.22" y1="191.69" x2="396.22" y2="219.49"/><line x1="395.02" y1="191.69" x2="397.42" y2="191.69"/><line x1="395.02" y1="219.49" x2="397.42" y2="219.49"/><line x1="428.94" y1="212.68" x2="428.94" y2="228.80"/><line x1="427.74" y1="212.68" x2="430.14" y2="212.68"/><line x1="427.74" y1="228.80" x2="430.14" y2="228.80"/><line x1="483.48" y1="217.41" x2="483.48" y2="229.91"/><line x1="482.28" y1="217.41" x2="484.68" y2="217.41"/><line x1="482.28" y1="229.91" x2="484.68" y2="229.91"/></g>
<path d="M374.40,162.50 C378.04,169.45 385.83,193.74 396.22,204.20 C404.01,212.04 417.53,215.13 428.94,217.41 C446.62,220.93 474.39,220.88 483.48,221.57" fill="none" stroke="#000" stroke-width="0.9"/>
<g fill="#000"><path d="M374.40,160.22 L376.68,164.32 L372.12,164.32Z"/><path d="M396.22,201.92 L398.50,206.02 L393.94,206.02Z"/><path d="M428.94,215.12 L431.22,219.23 L426.66,219.23Z"/><path d="M483.48,219.29 L485.76,223.40 L481.20,223.40Z"/></g>
<path d="M374.40,162.50 C378.04,171.19 384.75,202.64 396.22,214.62 C402.93,221.64 417.98,218.35 428.94,219.49 C447.07,221.37 474.39,222.97 483.48,223.66" fill="none" stroke="#000" stroke-width="1.6"/>
<g fill="#000"><path d="M374.40,160.12 L376.77,162.50 L374.40,164.88 L372.02,162.50Z"/><path d="M396.22,212.25 L398.59,214.62 L396.22,217.00 L393.84,214.62Z"/><path d="M428.94,217.12 L431.32,219.49 L428.94,221.87 L426.57,219.49Z"/><path d="M483.48,221.28 L485.86,223.66 L483.48,226.03 L481.11,223.66Z"/></g>
<path d="M374.40,162.50 C378.04,171.30 384.70,203.14 396.22,215.32 C402.88,222.37 417.98,219.05 428.94,220.19 C447.07,222.06 474.39,223.66 483.48,224.35" fill="none" stroke="#000" stroke-width="1.25"/>
<g fill="#000"><circle cx="374.40" cy="162.50" r="1.90"/><circle cx="396.22" cy="215.32" r="1.90"/><circle cx="428.94" cy="220.19" r="1.90"/><circle cx="483.48" cy="224.35" r="1.90"/></g>
<text x="370.30" y="234.30" font-size="6.5" fill="#000" stroke="#000" stroke-width="0.35" text-anchor="end" textLength="7.89" lengthAdjust="spacingAndGlyphs">0%</text><text x="370.30" y="220.40" font-size="6.5" fill="#000" stroke="#000" stroke-width="0.35" text-anchor="end" textLength="10.93" lengthAdjust="spacingAndGlyphs">20%</text><text x="370.30" y="206.50" font-size="6.5" fill="#000" stroke="#000" stroke-width="0.35" text-anchor="end" textLength="10.93" lengthAdjust="spacingAndGlyphs">40%</text><text x="370.30" y="192.60" font-size="6.5" fill="#000" stroke="#000" stroke-width="0.35" text-anchor="end" textLength="10.93" lengthAdjust="spacingAndGlyphs">60%</text><text x="370.30" y="178.70" font-size="6.5" fill="#000" stroke="#000" stroke-width="0.35" text-anchor="end" textLength="10.93" lengthAdjust="spacingAndGlyphs">80%</text><text x="370.30" y="164.80" font-size="6.5" fill="#000" stroke="#000" stroke-width="0.35" text-anchor="end" textLength="13.96" lengthAdjust="spacingAndGlyphs">100%</text><text x="370.30" y="150.90" font-size="6.5" fill="#000" stroke="#000" stroke-width="0.35" text-anchor="end" textLength="13.96" lengthAdjust="spacingAndGlyphs">120%</text><text x="374.40" y="244.00" font-size="6.5" fill="#000" stroke="#000" stroke-width="0.35" text-anchor="middle" textLength="3.04" lengthAdjust="spacingAndGlyphs">0</text><text x="396.22" y="244.00" font-size="6.5" fill="#000" stroke="#000" stroke-width="0.35" text-anchor="middle" textLength="3.04" lengthAdjust="spacingAndGlyphs">1</text><text x="418.03" y="244.00" font-size="6.5" fill="#000" stroke="#000" stroke-width="0.35" text-anchor="middle" textLength="3.04" lengthAdjust="spacingAndGlyphs">2</text><text x="439.85" y="244.00" font-size="6.5" fill="#000" stroke="#000" stroke-width="0.35" text-anchor="middle" textLength="3.04" lengthAdjust="spacingAndGlyphs">3</text><text x="461.67" y="244.00" font-size="6.5" fill="#000" stroke="#000" stroke-width="0.35" text-anchor="middle" textLength="3.04" lengthAdjust="spacingAndGlyphs">4</text><text x="483.48" y="244.00" font-size="6.5" fill="#000" stroke="#000" stroke-width="0.35" text-anchor="middle" textLength="3.04" lengthAdjust="spacingAndGlyphs">5</text><text x="505.30" y="244.00" font-size="6.5" fill="#000" stroke="#000" stroke-width="0.35" text-anchor="middle" textLength="3.04" lengthAdjust="spacingAndGlyphs">6</text>
<text x="439.40" y="251.30" font-size="6.5" fill="#000" stroke="#000" stroke-width="0.38" font-weight="bold" text-anchor="middle" textLength="47.80" lengthAdjust="spacingAndGlyphs">Bacitracin (mM)</text>
<text x="354.50" y="191.85" font-size="7.2" fill="#000" stroke="#000" stroke-width="0.25" font-weight="bold" text-anchor="middle" textLength="56.70" lengthAdjust="spacingAndGlyphs" transform="rotate(-90 354.50 191.85)">Residual binding</text>
<rect x="33.00" y="273.30" width="118.50" height="77.10" fill="none" stroke="#9a9a9a" stroke-width="1.1"/>
<line x1="33.00" y1="273.30" x2="33.00" y2="350.40" stroke="#7a7a7a" stroke-width="1"/>
<line x1="31.00" y1="350.40" x2="33.00" y2="350.40" stroke="#777" stroke-width="0.8"/>
<line x1="31.00" y1="337.55" x2="33.00" y2="337.55" stroke="#777" stroke-width="0.8"/>
<line x1="31.00" y1="324.70" x2="33.00" y2="324.70" stroke="#777" stroke-width="0.8"/>
<line x1="31.00" y1="311.85" x2="33.00" y2="311.85" stroke="#777" stroke-width="0.8"/>
<line x1="31.00" y1="299.00" x2="33.00" y2="299.00" stroke="#777" stroke-width="0.8"/>
<line x1="31.00" y1="286.15" x2="33.00" y2="286.15" stroke="#777" stroke-width="0.8"/>
<line x1="31.00" y1="273.30" x2="33.00" y2="273.30" stroke="#777" stroke-width="0.8"/>
<line x1="33.00" y1="350.40" x2="33.00" y2="352.40" stroke="#555" stroke-width="0.8"/>
<line x1="52.75" y1="350.40" x2="52.75" y2="352.40" stroke="#555" stroke-width="0.8"/>
<line x1="72.50" y1="350.40" x2="72.50" y2="352.40" stroke="#555" stroke-width="0.8"/>
<line x1="92.25" y1="350.40" x2="92.25" y2="352.40" stroke="#555" stroke-width="0.8"/>
<line x1="112.00" y1="350.40" x2="112.00" y2="352.40" stroke="#555" stroke-width="0.8"/>
<line x1="131.75" y1="350.40" x2="131.75" y2="352.40" stroke="#555" stroke-width="0.8"/>
<line x1="151.50" y1="350.40" x2="151.50" y2="352.40" stroke="#555" stroke-width="0.8"/>
<line x1="32.00" y1="350.40" x2="151.50" y2="350.40" stroke="#3a3a3a" stroke-width="1.1"/>
<g stroke="#808080" stroke-width="0.85"><line x1="37.94" y1="282.94" x2="37.94" y2="315.06"/><line x1="36.74" y1="282.94" x2="39.14" y2="282.94"/><line x1="36.74" y1="315.06" x2="39.14" y2="315.06"/><line x1="42.88" y1="289.36" x2="42.88" y2="321.49"/><line x1="41.67" y1="289.36" x2="44.08" y2="289.36"/><line x1="41.67" y1="321.49" x2="44.08" y2="321.49"/><line x1="131.75" y1="320.84" x2="131.75" y2="331.12"/><line x1="130.55" y1="320.84" x2="132.95" y2="320.84"/><line x1="130.55" y1="331.12" x2="132.95" y2="331.12"/></g>
<path d="M33.00,286.15 L37.94,279.73 L42.88,280.37 L131.75,284.87" fill="none" stroke="#000" stroke-width="1.25" stroke-dasharray="1.5,1.8"/>
<g fill="#000"><circle cx="33.00" cy="286.15" r="1.90"/><circle cx="37.94" cy="279.73" r="1.90"/><circle cx="42.88" cy="280.37" r="1.90"/><circle cx="131.75" cy="284.87" r="1.90"/></g>
<path d="M33.00,286.15 L37.94,282.30 L42.88,282.30 L131.75,288.72" fill="none" stroke="#000" stroke-width="1.25" stroke-dasharray="1.5,1.8"/>
<g fill="#000"><rect x="31.10" y="284.25" width="3.80" height="3.80"/><rect x="36.04" y="280.40" width="3.80" height="3.80"/><rect x="40.98" y="280.40" width="3.80" height="3.80"/><rect x="129.85" y="286.82" width="3.80" height="3.80"/></g>
<path d="M33.00,286.15 L37.94,285.51 L42.88,284.87 L131.75,291.29" fill="none" stroke="#000" stroke-width="1.25" stroke-dasharray="1.5,1.8"/>
<g fill="#000"><path d="M33.00,283.77 L35.38,286.15 L33.00,288.52 L30.62,286.15Z"/><path d="M37.94,283.13 L40.31,285.51 L37.94,287.88 L35.56,285.51Z"/><path d="M42.88,282.49 L45.25,284.87 L42.88,287.24 L40.50,284.87Z"/><path d="M131.75,288.92 L134.12,291.29 L131.75,293.67 L129.38,291.29Z"/></g>
<path d="M33.00,286.15 L37.94,292.57 L42.88,296.43 L131.75,298.36" fill="none" stroke="#000" stroke-width="1.25"/>
<g fill="#000"><path d="M33.00,283.87 L35.28,287.97 L30.72,287.97Z"/><path d="M37.94,290.30 L40.22,294.40 L35.66,294.40Z"/><path d="M42.88,294.15 L45.16,298.25 L40.59,298.25Z"/><path d="M131.75,296.08 L134.03,300.18 L129.47,300.18Z"/></g>
<path d="M33.00,286.15 L37.94,297.07 L42.88,301.57 L131.75,304.14" fill="none" stroke="#000" stroke-width="1.25"/>
<g fill="#000"><path d="M33.00,283.77 L35.38,286.15 L33.00,288.52 L30.62,286.15Z"/><path d="M37.94,294.70 L40.31,297.07 L37.94,299.45 L35.56,297.07Z"/><path d="M42.88,299.19 L45.25,301.57 L42.88,303.94 L40.50,301.57Z"/><path d="M131.75,301.76 L134.12,304.14 L131.75,306.51 L129.38,304.14Z"/></g>
<path d="M33.00,286.15 L37.94,308.64 L42.88,307.35 L131.75,308.00" fill="none" stroke="#000" stroke-width="1.25"/>
<g fill="#000"><path d="M33.00,283.77 L35.38,286.15 L33.00,288.52 L30.62,286.15Z"/><path d="M37.94,306.26 L40.31,308.64 L37.94,311.01 L35.56,308.64Z"/><path d="M42.88,304.98 L45.25,307.35 L42.88,309.73 L40.50,307.35Z"/><path d="M131.75,305.62 L134.12,308.00 L131.75,310.37 L129.38,308.00Z"/></g>
<path d="M33.00,286.15 L37.94,311.85 L42.88,316.35 L131.75,326.63" fill="none" stroke="#000" stroke-width="1.25"/>
<g fill="#000"><rect x="31.10" y="284.25" width="3.80" height="3.80"/><rect x="36.04" y="309.95" width="3.80" height="3.80"/><rect x="40.98" y="314.45" width="3.80" height="3.80"/><rect x="129.85" y="324.73" width="3.80" height="3.80"/></g>
<text x="28.40" y="352.70" font-size="6.5" fill="#000" stroke="#000" stroke-width="0.35" text-anchor="end" textLength="7.70" lengthAdjust="spacingAndGlyphs">0%</text><text x="28.40" y="339.85" font-size="6.5" fill="#000" stroke="#000" stroke-width="0.35" text-anchor="end" textLength="10.67" lengthAdjust="spacingAndGlyphs">20%</text><text x="28.40" y="327.00" font-size="6.5" fill="#000" stroke="#000" stroke-width="0.35" text-anchor="end" textLength="10.67" lengthAdjust="spacingAndGlyphs">40%</text><text x="28.40" y="314.15" font-size="6.5" fill="#000" stroke="#000" stroke-width="0.35" text-anchor="end" textLength="10.67" lengthAdjust="spacingAndGlyphs">60%</text><text x="28.40" y="301.30" font-size="6.5" fill="#000" stroke="#000" stroke-width="0.35" text-anchor="end" textLength="10.67" lengthAdjust="spacingAndGlyphs">80%</text><text x="28.40" y="288.45" font-size="6.5" fill="#000" stroke="#000" stroke-width="0.35" text-anchor="end" textLength="13.63" lengthAdjust="spacingAndGlyphs">100%</text><text x="28.40" y="275.60" font-size="6.5" fill="#000" stroke="#000" stroke-width="0.35" text-anchor="end" textLength="13.63" lengthAdjust="spacingAndGlyphs">120%</text><text x="33.00" y="362.60" font-size="6.5" fill="#000" stroke="#000" stroke-width="0.35" text-anchor="middle" textLength="2.96" lengthAdjust="spacingAndGlyphs">0</text><text x="52.75" y="362.60" font-size="6.5" fill="#000" stroke="#000" stroke-width="0.35" text-anchor="middle" textLength="10.37" lengthAdjust="spacingAndGlyphs">0.02</text><text x="72.50" y="362.60" font-size="6.5" fill="#000" stroke="#000" stroke-width="0.35" text-anchor="middle" textLength="10.37" lengthAdjust="spacingAndGlyphs">0.04</text><text x="92.25" y="362.60" font-size="6.5" fill="#000" stroke="#000" stroke-width="0.35" text-anchor="middle" textLength="10.37" lengthAdjust="spacingAndGlyphs">0.06</text><text x="112.00" y="362.60" font-size="6.5" fill="#000" stroke="#000" stroke-width="0.35" text-anchor="middle" textLength="10.37" lengthAdjust="spacingAndGlyphs">0.08</text><text x="131.75" y="362.60" font-size="6.5" fill="#000" stroke="#000" stroke-width="0.35" text-anchor="middle" textLength="7.41" lengthAdjust="spacingAndGlyphs">0.1</text><text x="151.50" y="362.60" font-size="6.5" fill="#000" stroke="#000" stroke-width="0.35" text-anchor="middle" textLength="10.37" lengthAdjust="spacingAndGlyphs">0.12</text>
<text x="86.20" y="371.80" font-size="6.5" fill="#000" stroke="#000" stroke-width="0.38" font-weight="bold" text-anchor="middle" textLength="38.00" lengthAdjust="spacingAndGlyphs">RL-90 (dilution)</text>
<text x="12.10" y="311.50" font-size="8" fill="#000" stroke="#000" stroke-width="0.25" font-weight="bold" text-anchor="middle" textLength="65.00" lengthAdjust="spacingAndGlyphs" transform="rotate(-90 12.10 311.50)">Residual binding</text>
<rect x="203.40" y="267.10" width="119.80" height="83.50" fill="none" stroke="#9a9a9a" stroke-width="1.1"/>
<line x1="203.40" y1="267.10" x2="203.40" y2="350.60" stroke="#7a7a7a" stroke-width="1"/>
<line x1="201.40" y1="350.60" x2="203.40" y2="350.60" stroke="#777" stroke-width="0.8"/>
<line x1="201.40" y1="338.67" x2="203.40" y2="338.67" stroke="#777" stroke-width="0.8"/>
<line x1="201.40" y1="326.74" x2="203.40" y2="326.74" stroke="#777" stroke-width="0.8"/>
<line x1="201.40" y1="314.81" x2="203.40" y2="314.81" stroke="#777" stroke-width="0.8"/>
<line x1="201.40" y1="302.89" x2="203.40" y2="302.89" stroke="#777" stroke-width="0.8"/>
<line x1="201.40" y1="290.96" x2="203.40" y2="290.96" stroke="#777" stroke-width="0.8"/>
<line x1="201.40" y1="279.03" x2="203.40" y2="279.03" stroke="#777" stroke-width="0.8"/>
<line x1="201.40" y1="267.10" x2="203.40" y2="267.10" stroke="#777" stroke-width="0.8"/>
<line x1="203.40" y1="350.60" x2="203.40" y2="352.60" stroke="#555" stroke-width="0.8"/>
<line x1="223.37" y1="350.60" x2="223.37" y2="352.60" stroke="#555" stroke-width="0.8"/>
<line x1="243.33" y1="350.60" x2="243.33" y2="352.60" stroke="#555" stroke-width="0.8"/>
<line x1="263.30" y1="350.60" x2="263.30" y2="352.60" stroke="#555" stroke-width="0.8"/>
<line x1="283.27" y1="350.60" x2="283.27" y2="352.60" stroke="#555" stroke-width="0.8"/>
<line x1="303.23" y1="350.60" x2="303.23" y2="352.60" stroke="#555" stroke-width="0.8"/>
<line x1="323.20" y1="350.60" x2="323.20" y2="352.60" stroke="#555" stroke-width="0.8"/>
<line x1="202.40" y1="350.60" x2="323.20" y2="350.60" stroke="#3a3a3a" stroke-width="1.1"/>
<g stroke="#808080" stroke-width="0.85"><line x1="208.39" y1="290.96" x2="208.39" y2="314.81"/><line x1="207.19" y1="290.96" x2="209.59" y2="290.96"/><line x1="207.19" y1="314.81" x2="209.59" y2="314.81"/><line x1="213.38" y1="298.11" x2="213.38" y2="314.81"/><line x1="212.18" y1="298.11" x2="214.58" y2="298.11"/><line x1="212.18" y1="314.81" x2="214.58" y2="314.81"/><line x1="253.32" y1="302.89" x2="253.32" y2="326.74"/><line x1="252.12" y1="302.89" x2="254.52" y2="302.89"/><line x1="252.12" y1="326.74" x2="254.52" y2="326.74"/><line x1="303.23" y1="310.04" x2="303.23" y2="338.67"/><line x1="302.03" y1="310.04" x2="304.43" y2="310.04"/><line x1="302.03" y1="338.67" x2="304.43" y2="338.67"/></g>
<path d="M203.40,290.96 C204.23,289.27 206.13,283.52 208.39,280.82 C209.45,279.55 211.64,278.91 213.38,279.03 C226.61,279.91 240.03,284.15 253.32,283.80 C269.98,283.36 294.91,277.84 303.23,276.64" fill="none" stroke="#000" stroke-width="1.25" stroke-dasharray="1.5,1.8"/>
<g fill="#000"><circle cx="203.40" cy="290.96" r="1.90"/><circle cx="208.39" cy="280.82" r="1.90"/><circle cx="213.38" cy="279.03" r="1.90"/><circle cx="253.32" cy="283.80" r="1.90"/><circle cx="303.23" cy="276.64" r="1.90"/></g>
<path d="M203.40,290.96 C204.23,290.16 206.48,287.33 208.39,286.19 C209.81,285.34 211.69,284.81 213.38,284.99 C226.67,286.40 239.98,290.96 253.32,290.96 C269.93,290.96 294.91,285.99 303.23,284.99" fill="none" stroke="#000" stroke-width="1.25" stroke-dasharray="1.5,1.8"/>
<g fill="#000"><path d="M203.40,288.58 L205.78,290.96 L203.40,293.33 L201.03,290.96Z"/><path d="M208.39,283.81 L210.77,286.19 L208.39,288.56 L206.02,286.19Z"/><path d="M213.38,282.62 L215.76,284.99 L213.38,287.37 L211.01,284.99Z"/><path d="M253.32,288.58 L255.69,290.96 L253.32,293.33 L250.94,290.96Z"/><path d="M303.23,282.62 L305.61,284.99 L303.23,287.37 L300.86,284.99Z"/></g>
<path d="M203.40,290.96 C204.23,290.56 206.67,289.19 208.39,288.57 C209.99,288.00 211.69,287.22 213.38,287.38 C226.67,288.61 239.97,292.57 253.32,292.75 C269.92,292.97 294.91,289.27 303.23,288.57" fill="none" stroke="#000" stroke-width="1.25" stroke-dasharray="1.5,1.8"/>
<g fill="#000"><path d="M203.40,288.68 L205.68,292.78 L201.12,292.78Z"/><path d="M208.39,286.29 L210.67,290.40 L206.11,290.40Z"/><path d="M213.38,285.10 L215.66,289.20 L211.10,289.20Z"/><path d="M253.32,290.47 L255.60,294.57 L251.04,294.57Z"/><path d="M303.23,286.29 L305.51,290.40 L300.95,290.40Z"/></g>
<path d="M203.40,290.96 C204.23,291.35 206.65,293.03 208.39,293.34 C209.98,293.63 211.74,292.46 213.38,292.75 C226.72,295.05 239.85,299.76 253.32,301.10 C269.80,302.74 294.91,301.59 303.23,301.69" fill="none" stroke="#000" stroke-width="1.25" stroke-dasharray="1.5,1.8"/>
<g fill="#000"><rect x="201.50" y="289.06" width="3.80" height="3.80"/><rect x="206.49" y="291.44" width="3.80" height="3.80"/><rect x="211.48" y="290.85" width="3.80" height="3.80"/><rect x="251.42" y="299.20" width="3.80" height="3.80"/><rect x="301.33" y="299.79" width="3.80" height="3.80"/></g>
<path d="M203.40,290.96 C204.23,292.05 206.91,295.21 208.39,297.52 C210.24,300.38 210.33,305.81 213.38,306.46 C225.30,309.00 240.17,305.40 253.32,307.06 C270.12,309.18 294.91,316.01 303.23,317.80" fill="none" stroke="#000" stroke-width="1.25"/>
<g fill="#000"><path d="M203.40,288.58 L205.78,290.96 L203.40,293.33 L201.03,290.96Z"/><path d="M208.39,295.14 L210.77,297.52 L208.39,299.89 L206.02,297.52Z"/><path d="M213.38,304.09 L215.76,306.46 L213.38,308.84 L211.01,306.46Z"/><path d="M253.32,304.69 L255.69,307.06 L253.32,309.44 L250.94,307.06Z"/><path d="M303.23,315.42 L305.61,317.80 L303.23,320.17 L300.86,317.80Z"/></g>
<path d="M203.40,290.96 C204.23,292.95 206.40,299.09 208.39,302.89 C209.73,305.45 210.70,309.44 213.38,310.04 C225.68,312.82 240.03,311.79 253.32,313.03 C269.98,314.57 294.91,317.50 303.23,318.39" fill="none" stroke="#000" stroke-width="1.25"/>
<g fill="#000"><rect x="201.50" y="289.06" width="3.80" height="3.80"/><rect x="206.49" y="300.99" width="3.80" height="3.80"/><rect x="211.48" y="308.14" width="3.80" height="3.80"/><rect x="251.42" y="311.13" width="3.80" height="3.80"/><rect x="301.33" y="316.49" width="3.80" height="3.80"/></g>
<path d="M203.40,290.96 C204.23,294.34 205.74,305.37 208.39,311.24 C209.07,312.73 211.65,312.68 213.38,313.03 C226.63,315.66 239.96,318.05 253.32,320.18 C269.91,322.83 294.91,326.15 303.23,327.34" fill="none" stroke="#000" stroke-width="1.25"/>
<g fill="#000"><path d="M203.40,288.68 L205.68,292.78 L201.12,292.78Z"/><path d="M208.39,308.96 L210.67,313.06 L206.11,313.06Z"/><path d="M213.38,310.75 L215.66,314.85 L211.10,314.85Z"/><path d="M253.32,317.90 L255.60,322.01 L251.04,322.01Z"/><path d="M303.23,325.06 L305.51,329.16 L300.95,329.16Z"/></g>
<path d="M203.40,290.96 C204.23,294.54 205.82,305.83 208.39,312.43 C209.15,314.38 211.31,316.11 213.38,316.60 C226.28,319.69 240.02,320.91 253.32,323.16 C269.97,325.98 294.91,330.37 303.23,331.81" fill="none" stroke="#000" stroke-width="1.25"/>
<g fill="#000"><circle cx="203.40" cy="290.96" r="1.90"/><circle cx="208.39" cy="312.43" r="1.90"/><circle cx="213.38" cy="316.60" r="1.90"/><circle cx="253.32" cy="323.16" r="1.90"/><circle cx="303.23" cy="331.81" r="1.90"/></g>
<text x="198.90" y="352.90" font-size="6.5" fill="#000" stroke="#000" stroke-width="0.35" text-anchor="end" textLength="7.80" lengthAdjust="spacingAndGlyphs">0%</text><text x="198.90" y="340.97" font-size="6.5" fill="#000" stroke="#000" stroke-width="0.35" text-anchor="end" textLength="10.80" lengthAdjust="spacingAndGlyphs">20%</text><text x="198.90" y="329.04" font-size="6.5" fill="#000" stroke="#000" stroke-width="0.35" text-anchor="end" textLength="10.80" lengthAdjust="spacingAndGlyphs">40%</text><text x="198.90" y="317.11" font-size="6.5" fill="#000" stroke="#000" stroke-width="0.35" text-anchor="end" textLength="10.80" lengthAdjust="spacingAndGlyphs">60%</text><text x="198.90" y="305.19" font-size="6.5" fill="#000" stroke="#000" stroke-width="0.35" text-anchor="end" textLength="10.80" lengthAdjust="spacingAndGlyphs">80%</text><text x="198.90" y="293.26" font-size="6.5" fill="#000" stroke="#000" stroke-width="0.35" text-anchor="end" textLength="13.80" lengthAdjust="spacingAndGlyphs">100%</text><text x="198.90" y="281.33" font-size="6.5" fill="#000" stroke="#000" stroke-width="0.35" text-anchor="end" textLength="13.80" lengthAdjust="spacingAndGlyphs">120%</text><text x="198.90" y="269.40" font-size="6.5" fill="#000" stroke="#000" stroke-width="0.35" text-anchor="end" textLength="13.80" lengthAdjust="spacingAndGlyphs">140%</text><text x="203.40" y="362.10" font-size="6.5" fill="#000" stroke="#000" stroke-width="0.35" text-anchor="middle" textLength="3.00" lengthAdjust="spacingAndGlyphs">0</text><text x="223.37" y="362.10" font-size="6.5" fill="#000" stroke="#000" stroke-width="0.35" text-anchor="middle" textLength="10.50" lengthAdjust="spacingAndGlyphs">0.02</text><text x="243.33" y="362.10" font-size="6.5" fill="#000" stroke="#000" stroke-width="0.35" text-anchor="middle" textLength="10.50" lengthAdjust="spacingAndGlyphs">0.04</text><text x="263.30" y="362.10" font-size="6.5" fill="#000" stroke="#000" stroke-width="0.35" text-anchor="middle" textLength="10.50" lengthAdjust="spacingAndGlyphs">0.06</text><text x="283.27" y="362.10" font-size="6.5" fill="#000" stroke="#000" stroke-width="0.35" text-anchor="middle" textLength="10.50" lengthAdjust="spacingAndGlyphs">0.08</text><text x="303.23" y="362.10" font-size="6.5" fill="#000" stroke="#000" stroke-width="0.35" text-anchor="middle" textLength="7.50" lengthAdjust="spacingAndGlyphs">0.1</text><text x="323.20" y="362.10" font-size="6.5" fill="#000" stroke="#000" stroke-width="0.35" text-anchor="middle" textLength="10.50" lengthAdjust="spacingAndGlyphs">0.12</text>
<text x="263.50" y="371.30" font-size="6.5" fill="#000" stroke="#000" stroke-width="0.38" font-weight="bold" text-anchor="middle" textLength="45.40" lengthAdjust="spacingAndGlyphs">RL-90 (dilution)</text>
<text x="183.60" y="309.10" font-size="7.2" fill="#000" stroke="#000" stroke-width="0.25" font-weight="bold" text-anchor="middle" textLength="57.20" lengthAdjust="spacingAndGlyphs" transform="rotate(-90 183.60 309.10)">Residual binding</text>
<rect x="373.20" y="267.10" width="127.00" height="84.20" fill="none" stroke="#9a9a9a" stroke-width="1.1"/>
<line x1="373.20" y1="267.10" x2="373.20" y2="351.30" stroke="#7a7a7a" stroke-width="1"/>
<line x1="371.20" y1="351.30" x2="373.20" y2="351.30" stroke="#777" stroke-width="0.8"/>
<line x1="371.20" y1="337.27" x2="373.20" y2="337.27" stroke="#777" stroke-width="0.8"/>
<line x1="371.20" y1="323.23" x2="373.20" y2="323.23" stroke="#777" stroke-width="0.8"/>
<line x1="371.20" y1="309.20" x2="373.20" y2="309.20" stroke="#777" stroke-width="0.8"/>
<line x1="371.20" y1="295.17" x2="373.20" y2="295.17" stroke="#777" stroke-width="0.8"/>
<line x1="371.20" y1="281.13" x2="373.20" y2="281.13" stroke="#777" stroke-width="0.8"/>
<line x1="371.20" y1="267.10" x2="373.20" y2="267.10" stroke="#777" stroke-width="0.8"/>
<line x1="373.20" y1="351.30" x2="373.20" y2="353.30" stroke="#555" stroke-width="0.8"/>
<line x1="394.37" y1="351.30" x2="394.37" y2="353.30" stroke="#555" stroke-width="0.8"/>
<line x1="415.53" y1="351.30" x2="415.53" y2="353.30" stroke="#555" stroke-width="0.8"/>
<line x1="436.70" y1="351.30" x2="436.70" y2="353.30" stroke="#555" stroke-width="0.8"/>
<line x1="457.87" y1="351.30" x2="457.87" y2="353.30" stroke="#555" stroke-width="0.8"/>
<line x1="479.03" y1="351.30" x2="479.03" y2="353.30" stroke="#555" stroke-width="0.8"/>
<line x1="500.20" y1="351.30" x2="500.20" y2="353.30" stroke="#555" stroke-width="0.8"/>
<line x1="372.20" y1="351.30" x2="500.20" y2="351.30" stroke="#3a3a3a" stroke-width="1.1"/>
<g stroke="#808080" stroke-width="0.85"><line x1="378.49" y1="283.24" x2="378.49" y2="330.25"/><line x1="377.29" y1="283.24" x2="379.69" y2="283.24"/><line x1="377.29" y1="330.25" x2="379.69" y2="330.25"/><line x1="383.78" y1="281.84" x2="383.78" y2="328.15"/><line x1="382.58" y1="281.84" x2="384.98" y2="281.84"/><line x1="382.58" y1="328.15" x2="384.98" y2="328.15"/><line x1="426.12" y1="313.41" x2="426.12" y2="342.88"/><line x1="424.92" y1="313.41" x2="427.32" y2="313.41"/><line x1="424.92" y1="342.88" x2="427.32" y2="342.88"/><line x1="479.03" y1="314.81" x2="479.03" y2="344.28"/><line x1="477.83" y1="314.81" x2="480.23" y2="314.81"/><line x1="477.83" y1="344.28" x2="480.23" y2="344.28"/></g>
<path d="M373.20,281.13 C374.08,282.19 376.94,285.19 378.49,287.45 C380.47,290.34 381.23,294.20 383.78,296.57 C397.10,308.93 409.94,325.81 426.12,331.65 C441.69,337.27 470.21,331.07 479.03,330.95" fill="none" stroke="#000" stroke-width="0.9"/>
<g fill="#000"><path d="M373.20,278.85 L375.48,282.96 L370.92,282.96Z"/><path d="M378.49,285.17 L380.77,289.27 L376.21,289.27Z"/><path d="M383.78,294.29 L386.06,298.39 L381.50,298.39Z"/><path d="M426.12,329.37 L428.40,333.48 L423.84,333.48Z"/><path d="M479.03,328.67 L481.31,332.78 L476.75,332.78Z"/></g>
<path d="M373.20,281.13 C374.08,284.06 376.55,292.89 378.49,298.68 C380.08,303.41 379.70,310.72 383.78,312.71 C395.57,318.44 411.93,319.22 426.12,321.83 C443.68,325.06 470.21,328.85 479.03,330.25" fill="none" stroke="#000" stroke-width="1.25"/>
<g fill="#000"><path d="M373.20,278.76 L375.57,281.13 L373.20,283.51 L370.82,281.13Z"/><path d="M378.49,296.30 L380.87,298.68 L378.49,301.05 L376.12,298.68Z"/><path d="M383.78,310.33 L386.16,312.71 L383.78,315.08 L381.41,312.71Z"/><path d="M426.12,319.46 L428.49,321.83 L426.12,324.21 L423.74,321.83Z"/><path d="M479.03,327.88 L481.41,330.25 L479.03,332.62 L476.66,330.25Z"/></g>
<path d="M373.20,281.13 C374.08,286.05 375.76,301.20 378.49,310.60 C379.29,313.36 381.09,316.79 383.78,317.62 C396.97,321.70 411.88,324.08 426.12,325.34 C443.63,326.89 470.21,325.92 479.03,326.04" fill="none" stroke="#000" stroke-width="1.25"/>
<g fill="#000"><rect x="371.30" y="279.23" width="3.80" height="3.80"/><rect x="376.59" y="308.70" width="3.80" height="3.80"/><rect x="381.88" y="315.72" width="3.80" height="3.80"/><rect x="424.22" y="323.44" width="3.80" height="3.80"/><rect x="477.13" y="324.14" width="3.80" height="3.80"/></g>
<path d="M373.20,281.13 C374.08,286.16 375.54,302.11 378.49,311.31 C379.07,313.10 381.85,313.66 383.78,314.11 C397.72,317.40 411.92,320.23 426.12,322.53 C443.67,325.38 470.21,328.38 479.03,329.55" fill="none" stroke="#000" stroke-width="1.6"/>
<g fill="#000"><circle cx="373.20" cy="281.13" r="1.90"/><circle cx="378.49" cy="311.31" r="1.90"/><circle cx="383.78" cy="314.11" r="1.90"/><circle cx="426.12" cy="322.53" r="1.90"/><circle cx="479.03" cy="329.55" r="1.90"/></g>
<text x="368.40" y="353.60" font-size="6.5" fill="#000" stroke="#000" stroke-width="0.35" text-anchor="end" textLength="7.89" lengthAdjust="spacingAndGlyphs">0%</text><text x="368.40" y="339.57" font-size="6.5" fill="#000" stroke="#000" stroke-width="0.35" text-anchor="end" textLength="10.93" lengthAdjust="spacingAndGlyphs">20%</text><text x="368.40" y="325.53" font-size="6.5" fill="#000" stroke="#000" stroke-width="0.35" text-anchor="end" textLength="10.93" lengthAdjust="spacingAndGlyphs">40%</text><text x="368.40" y="311.50" font-size="6.5" fill="#000" stroke="#000" stroke-width="0.35" text-anchor="end" textLength="10.93" lengthAdjust="spacingAndGlyphs">60%</text><text x="368.40" y="297.47" font-size="6.5" fill="#000" stroke="#000" stroke-width="0.35" text-anchor="end" textLength="10.93" lengthAdjust="spacingAndGlyphs">80%</text><text x="368.40" y="283.43" font-size="6.5" fill="#000" stroke="#000" stroke-width="0.35" text-anchor="end" textLength="13.96" lengthAdjust="spacingAndGlyphs">100%</text><text x="368.40" y="269.40" font-size="6.5" fill="#000" stroke="#000" stroke-width="0.35" text-anchor="end" textLength="13.96" lengthAdjust="spacingAndGlyphs">120%</text><text x="373.20" y="362.60" font-size="6.5" fill="#000" stroke="#000" stroke-width="0.35" text-anchor="middle" textLength="3.04" lengthAdjust="spacingAndGlyphs">0</text><text x="394.37" y="362.60" font-size="6.5" fill="#000" stroke="#000" stroke-width="0.35" text-anchor="middle" textLength="10.63" lengthAdjust="spacingAndGlyphs">0.02</text><text x="415.53" y="362.60" font-size="6.5" fill="#000" stroke="#000" stroke-width="0.35" text-anchor="middle" textLength="10.63" lengthAdjust="spacingAndGlyphs">0.04</text><text x="436.70" y="362.60" font-size="6.5" fill="#000" stroke="#000" stroke-width="0.35" text-anchor="middle" textLength="10.63" lengthAdjust="spacingAndGlyphs">0.06</text><text x="457.87" y="362.60" font-size="6.5" fill="#000" stroke="#000" stroke-width="0.35" text-anchor="middle" textLength="10.63" lengthAdjust="spacingAndGlyphs">0.08</text><text x="479.03" y="362.60" font-size="6.5" fill="#000" stroke="#000" stroke-width="0.35" text-anchor="middle" textLength="7.59" lengthAdjust="spacingAndGlyphs">0.1</text><text x="500.20" y="362.60" font-size="6.5" fill="#000" stroke="#000" stroke-width="0.35" text-anchor="middle" textLength="10.63" lengthAdjust="spacingAndGlyphs">0.12</text>
<text x="428.30" y="371.30" font-size="6.5" fill="#000" stroke="#000" stroke-width="0.38" font-weight="bold" text-anchor="middle" textLength="43.00" lengthAdjust="spacingAndGlyphs">RL-90 (dilution)</text>
<text x="354.90" y="310.60" font-size="7.2" fill="#000" stroke="#000" stroke-width="0.25" font-weight="bold" text-anchor="middle" textLength="52.20" lengthAdjust="spacingAndGlyphs" transform="rotate(-90 354.90 310.60)">Residual binding</text>
</svg>
</body></html>
